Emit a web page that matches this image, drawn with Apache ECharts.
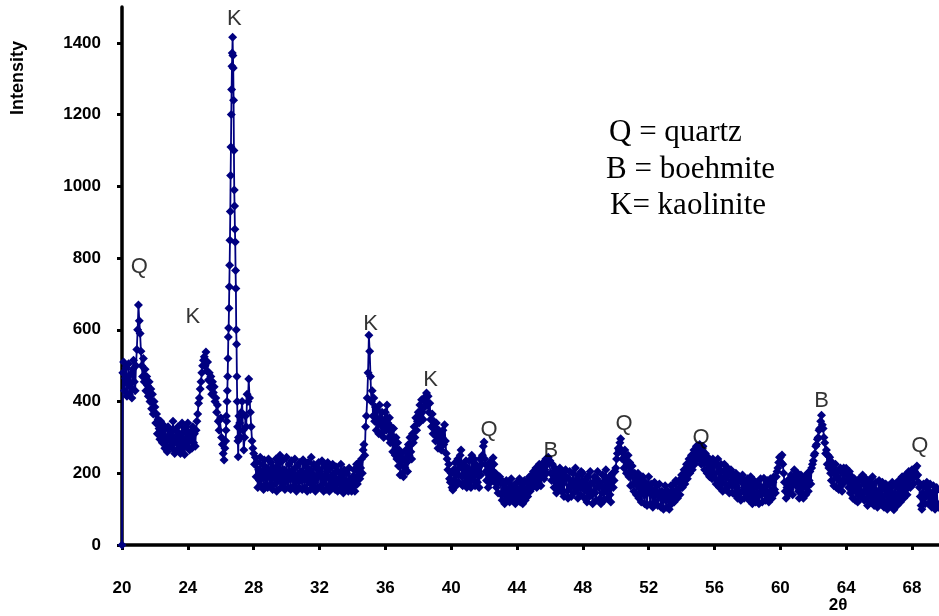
<!DOCTYPE html>
<html>
<head>
<meta charset="utf-8">
<script src="https://cdn.jsdelivr.net/npm/echarts@6/dist/echarts.min.js"></script>
<style>html,body{margin:0;padding:0;background:#fff}#chart{width:939px;height:616px}</style>
</head>
<body>
<div id="chart"></div>
<script>
// ---- data ----
const scanStart = 20;      // first whole degree
const scanStep = 0.05;     // step inside each degree row
// one row per whole degree of 2-theta (20, 21, ... 69); values at +0.00, +0.05, ... ; null = covered by fine scan
const scanRows = [
  [0, 480, 510, 430, 465, 495, 415, 450, 505, 420, 475, 440, 410, 490, 515, 455, 430, 500, 545, 600],
  [669, 625, 590, 540, 500, 470, 520, 455, 490, 430, 470, 445, 415, 455, 400, 435, 380, 420, 365, 400],
  [385, 340, 365, 310, 350, 325, 295, 345, 315, 285, 335, 300, 270, 325, 290, 260, 330, 305, 275, 320],
  [300, 270, 345, 285, 255, 320, 300, 265, 330, 280, 310, 255, 295, 340, 270, 315, 252, 290, 330, 275],
  [340, 290, 265, 315, 300, 270, 330, 285, 310, 275, 320, 345, 365, 395, 410, 435, 455, 480, 500, 515],
  [525, 500, 538, 485, 510, 460, 480, 440, 470, 420, 455, 425, 441, 400, 410, 370, 390, 345, 320, 350],
  [355, 300, 280, 255, 237, 270],
  [null, null, null, 340, 300, 370, 400, 320, 265, 300, 360, 330, 420, 400, 463, 410, 370, 330, 290, 270],
  [255, 225, 245, 190, 230, 160, 210, 180, 245, 165, 200, 225, 155, 237, 190, 170, 215, 160, 240, 195],
  [165, 230, 185, 155, 215, 200, 170, 240, 150, 205, 225, 180, 250, 160, 195, 235, 170, 210, 155, 190],
  [245, 180, 160, 225, 200, 155, 235, 185, 210, 165, 240, 175, 150, 220, 195, 160, 230, 180, 205, 155],
  [238, 185, 160, 220, 200, 150, 230, 175, 210, 155, 245, 190, 165, 225, 175, 150, 215, 195, 160, 230],
  [210, 160, 190, 235, 170, 150, 220, 185, 155, 205, 230, 165, 150, 215, 190, 160, 225, 175, 200, 155],
  [218, 170, 150, 205, 185, 155, 225, 160, 195, 145, 210, 175, 155, 200, 165, 150, 215, 180, 160, 150],
  [190, 160, 210, 150, 180, 225, 170, 205, 230, 185, 215, 240, 200, 265, 280, 250, 330, 360, 410, 480],
  [585, 540, 470, 400, 430, 360, 410, 345, 385, 320, 375, 340, 310, 390, 350, 310, 370, 330, 300, 350],
  [370, 320, 390, 340, 300, 355, 285, 330, 305, 260, 325, 280, 250, 300, 240, 285, 220, 265, 195, 240],
  [255, 200, 190, 240, 215, 265, 230, 205, 280, 250, 300, 260, 240, 310, 285, 330, 300, 355, 320, 345],
  [370, 340, 390, 355, 405, 370, 350, 410, 385, 400, 424, 390, 415, 370, 395, 350, 330, 365, 310, 345],
  [330, 290, 340, 300, 270, 320, 285, 310, 265, 300, 320, 280, 335, 290, 255, 240, 210, 225, 185, 175],
  [200, 160, 153, 210, 180, 230, 165, 200, 240, 175, 215, 250, 265, 190, 165, 225, 200, 175, 235, 160],
  [215, 170, 235, 190, 160, 250, 205, 180, 240, 165, 225, 200, 175, 215, 160, 240, 195, 225, 250, 275],
  [287, 240, 205, 180, 220, 160, 200, 230, 175, 210, 190, 243, 225, 175, 200, 160, 185, 145, 175, 190],
  [183, 140, 125, 170, 150, 115, 160, 180, 130, 145, 175, 120, 155, 185, 135, 125, 165, 145, 115, 150],
  [175, 130, 150, 185, 120, 140, 170, 115, 160, 180, 125, 145, 175, 135, 160, 190, 150, 170, 195, 160],
  [205, 165, 185, 215, 160, 200, 175, 225, 190, 165, 215, 200, 230, 185, 210, 240, 200, 225, 245, 230],
  [235, 200, 180, 225, 195, 160, 215, 175, 145, 205, 190, 160, 215, 180, 150, 200, 170, 135, 185, 210],
  [190, 150, 130, 185, 205, 160, 135, 175, 200, 145, 165, 215, 180, 155, 130, 195, 175, 140, 205, 160],
  [200, 155, 130, 180, 165, 120, 190, 150, 135, 205, 170, 140, 115, 175, 190, 145, 125, 185, 205, 160],
  [175, 130, 115, 165, 195, 145, 125, 180, 210, 155, 130, 170, 190, 140, 120, 175, 200, 160, 180, 205],
  [215, 240, 255, 270, 265, 285, 296, 265, 240, 255, 215, 265, 240, 200, 225, 250, 190, 230, 165, 205],
  [220, 170, 150, 200, 185, 140, 175, 200, 130, 160, 185, 120, 165, 190, 140, 115, 175, 150, 110, 160],
  [190, 145, 115, 170, 155, 105, 140, 175, 120, 150, 165, 110, 135, 170, 145, 105, 150, 125, 100, 145],
  [165, 125, 105, 150, 140, 100, 130, 165, 115, 145, 170, 120, 140, 180, 150, 130, 175, 155, 140, 185],
  [195, 160, 180, 210, 170, 195, 225, 185, 205, 240, 200, 220, 250, 210, 235, 265, 225, 250, 275, 240],
  [270, 240, 280, 250, 225, 265, 275, 230, 210, 255, 240, 200, 245, 225, 190, 235, 210, 185, 240, 200],
  [230, 185, 170, 220, 240, 180, 160, 210, 225, 175, 150, 205, 225, 170, 155, 200, 215, 165, 145, 195],
  [210, 165, 145, 195, 180, 140, 200, 160, 130, 185, 190, 145, 125, 175, 195, 150, 130, 180, 165, 135],
  [185, 145, 125, 170, 190, 140, 115, 165, 180, 130, 120, 160, 175, 135, 115, 165, 185, 140, 120, 160],
  [186, 145, 125, 165, 180, 135, 120, 170, 185, 140, 130, 175, 190, 155, 145, 190, 205, 215, 230, 245],
  [245, 230, 251, 225, 200, 175, 150, 130, 160, 175, 140, 185, 155, 195, 170, 140, 180, 210, 190, 165],
  [185, 200, 150, 130, 175, 195, 145, 165, 130, 180, 190, 140, 160, 200, 150, 180, 205, 170, 215, 225],
  [235, 250, 255, 275, 280, 295, 300, 320, 325, 345, 362, 335, 325, 300, 285, 255, 265, 225, 250, 215],
  [245, 200, 180, 230, 215, 165, 200, 225, 160, 190, 205, 155, 180, 215, 165, 150, 200, 215, 175, 200],
  [214, 180, 195, 160, 205, 145, 170, 190, 130, 160, 185, 125, 150, 175, 120, 165, 185, 135, 150, 180],
  [195, 145, 125, 170, 185, 130, 110, 160, 180, 140, 120, 165, 190, 135, 110, 155, 175, 125, 105, 150],
  [180, 135, 115, 165, 175, 125, 105, 155, 170, 120, 100, 150, 165, 130, 110, 160, 175, 125, 98, 145],
  [170, 125, 110, 160, 180, 135, 120, 170, 190, 145, 130, 180, 195, 155, 140, 185, 205, 170, 160, 200],
  [210, 185, 170, 205, 215, 190, 220, 195, 175, 160, 135, 110, 100, 145, 170, 130, 115, 160, 175, 140],
  [115, 150, 170, 130, 105, 145, 165, 120, 100, 150, 160, 115, 105]
];
// fine scan across the strong kaolinite reflection
const peakAngles = [26.30, 26.32, 26.34, 26.36, 26.38, 26.40, 26.42, 26.44, 26.46, 26.48,
  26.50, 26.52, 26.54, 26.56, 26.58, 26.60, 26.62, 26.64, 26.66, 26.68,
  26.70, 26.72, 26.74, 26.76, 26.78, 26.80, 26.82, 26.84, 26.86, 26.88,
  26.90, 26.92, 26.94, 26.96, 26.98, 27.00, 27.02, 27.04, 27.06, 27.08, 27.10];
const peakCounts = [290, 320, 360, 345, 400, 430, 470, 520, 580, 605,
  660, 720, 780, 850, 930, 1030, 1110, 1200, 1270, 1335,
  1372, 1416, 1365, 1330, 1240, 1100, 990, 945, 880, 845,
  765, 715, 600, 560, 470, 400, 330, 290, 246, 300, 360];

const xTicks = [20, 24, 28, 32, 36, 40, 44, 48, 52, 56, 60, 64, 68];
const yTicks = [0, 200, 400, 600, 800, 1000, 1200, 1400];

const annoLabels = ['Q', 'K', 'K', 'K', 'K', 'Q', 'B', 'Q', 'Q', 'B', 'Q'];
const annoAngles = [21.05, 24.3, 26.82, 35.1, 38.75, 42.3, 46.05, 50.5, 55.18, 62.5, 68.48];
const annoLevels = [775, 637, 1467, 617, 460, 320, 263, 337, 298, 401, 277];

const legendLines = ['Q = quartz', 'B = boehmite', 'K= kaolinite'];

// ---- build ----
const points = [];
scanRows.forEach((row, r) => {
  row.forEach((c, k) => {
    if (c !== null) points.push([+(scanStart + r + k * scanStep).toFixed(2), c]);
  });
});
peakAngles.forEach((a, i) => points.push([a, peakCounts[i]]));
points.sort((p, q) => p[0] - q[0]);

const annoData = annoAngles.map((a, i) => ({ name: annoLabels[i], value: [a, annoLevels[i]] }));

const sans = 'Liberation Sans, Arial, Helvetica, sans-serif';
const serif = 'Liberation Serif, Times New Roman, serif';

const chart = echarts.init(document.getElementById('chart'), null, { renderer: 'canvas' });
chart.setOption({
  animation: false,
  backgroundColor: '#ffffff',
  grid: { left: 122, right: 0, top: 7, bottom: 71, containLabel: false },
  xAxis: {
    type: 'value', min: 20, max: 69.64, interval: 4,
    axisLine: { show: true, onZero: false, lineStyle: { color: '#000', width: 3.5 } },
    axisTick: { show: true, customValues: xTicks, length: 5, lineStyle: { color: '#000', width: 3 } },
    axisLabel: { customValues: xTicks, formatter: v => String(v), margin: 35, color: '#000', fontWeight: 'bold', fontSize: 17, fontFamily: sans },
    splitLine: { show: false }
  },
  yAxis: {
    type: 'value', min: 0, max: 1500, interval: 200,
    axisLine: { show: true, onZero: false, lineStyle: { color: '#000', width: 3.5 } },
    axisTick: { show: true, customValues: yTicks, length: 5, lineStyle: { color: '#000', width: 3 } },
    axisLabel: { customValues: yTicks, formatter: v => String(v), margin: 21, color: '#000', fontWeight: 'bold', fontSize: 17, fontFamily: sans },
    splitLine: { show: false }
  },
  series: [
    {
      type: 'line', data: points,
      symbol: 'diamond', symbolSize: 9, showAllSymbol: true,
      progressive: 0, sampling: null,
      itemStyle: { color: '#000080' },
      lineStyle: { color: '#000080', width: 1.8 },
      z: 2
    },
    {
      type: 'scatter', data: annoData,
      symbolSize: 0, silent: true, z: 5,
      label: {
        show: true, position: 'inside', formatter: p => p.name,
        color: '#000', fontSize: 22, fontFamily: sans
      }
    }
  ],
  graphic: [
    { type: 'text', x: 18, y: 78, rotation: Math.PI / 2,
      style: { text: 'Intensity', fill: '#000', font: 'bold 18px ' + sans, align: 'center', verticalAlign: 'middle' } },
    { type: 'text', x: 838, y: 605,
      style: { text: '2θ', fill: '#000', font: 'bold 17px ' + sans, align: 'center', verticalAlign: 'middle' } },
    { type: 'text', x: 609, y: 133,
      style: { text: legendLines[0], fill: '#000', font: '31px ' + serif, align: 'left', verticalAlign: 'middle' } },
    { type: 'text', x: 606, y: 170,
      style: { text: legendLines[1], fill: '#000', font: '31px ' + serif, align: 'left', verticalAlign: 'middle' } },
    { type: 'text', x: 610, y: 206,
      style: { text: legendLines[2], fill: '#000', font: '31px ' + serif, align: 'left', verticalAlign: 'middle' } }
  ]
});
</script>
</body>
</html>
